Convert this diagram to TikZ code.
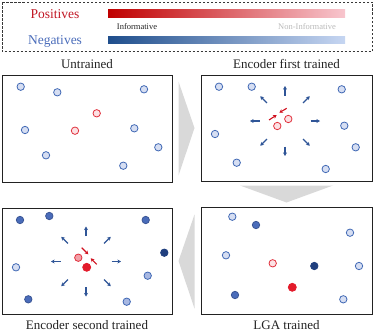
\documentclass[tikz,border=0pt]{standalone}
\usepackage{fontspec}
\setmainfont{Liberation Serif}
\usetikzlibrary{arrows.meta,positioning,calc}
\definecolor{cPos}{HTML}{C00000}
\definecolor{cPosL}{HTML}{F8C6CE}
\definecolor{cNeg}{HTML}{1F4E8C}
\definecolor{cNegL}{HTML}{C6D6F2}
\definecolor{cRing}{HTML}{4169B5}
\definecolor{cDotL}{HTML}{D6DEF2}
\definecolor{cDotM}{HTML}{4A6CBA}
\definecolor{cDotH}{HTML}{A8B8E2}
\definecolor{cDotD}{HTML}{203F7E}
\definecolor{cRed}{HTML}{E0303C}
\definecolor{cRedL}{HTML}{FCE1E4}
\definecolor{cRedM}{HTML}{F2A0A8}
\definecolor{cRedD}{HTML}{E31B2B}
\definecolor{cArrB}{HTML}{2F5597}
\definecolor{cArrR}{HTML}{D0101E}
\definecolor{cGrey}{HTML}{D9D9D9}
\definecolor{cInk}{HTML}{222222}
\tikzset{
  panel/.style={draw=cInk, line width=1pt, minimum width=170pt, minimum height=106pt, inner sep=0pt},
  ttl/.style={font=\fontsize{13}{15}\selectfont, inner sep=0pt, text=cInk},
  legt/.style={font=\fontsize{13.5}{15}\selectfont, inner sep=0pt},
  bar/.style={draw=none, minimum width=237pt, minimum height=7.5pt, inner sep=0pt},
  tick/.style={font=\fontsize{8.5}{10}\selectfont, inner sep=0pt},
  garrow/.style={fill=cGrey, draw=none},
}
\tikzset{
  dot/.style={circle, inner sep=0pt, minimum size=7.4pt, line width=0.8pt},
  negl/.style={dot, draw=cRing, fill=cDotL},
  negh/.style={dot, draw=cRing, fill=cDotH},
  negm/.style={dot, draw=cDotM!80!black, fill=cDotM},
  negd/.style={dot, draw=cDotD, fill=cDotD},
  posl/.style={dot, draw=cRed, fill=cRedL},
  posm/.style={dot, draw=cRed, fill=cRedM},
  posd/.style={dot, draw=cRedD, fill=cRedD, minimum size=8pt},
  vflow/.style={-{Stealth[length=3.6pt, width=4pt]}, line width=1.1pt, draw=cArrB},
  rflow/.style={-{Stealth[length=3.6pt, width=4pt]}, line width=1.1pt, draw=cArrR},
}
\begin{document}
\begin{tikzpicture}[x=1pt, y=-1pt]
\useasboundingbox (0,0) rectangle (374,332);
% legend
\draw[cInk!90, line width=0.9pt, dash pattern=on 2.5pt off 1.5pt] (2,2) rectangle (372,51.5);
\node[bar, left color=cPos, right color=cPosL, anchor=north west] (rbar) at (108,9.5) {};
\node[bar, left color=cNeg, right color=cNegL, anchor=north west] (bbar) at (108,36) {};
\node[legt, text=cRedD!85!black, anchor=base] (pos) at (55,18.5) {Positives};
\node[legt, text=cDotM, anchor=base] (neg) at (55,44.5) {Negatives};
\node[tick, text=cInk, anchor=base] (inf) at (137,29.5) {Informative};
\node[tick, text=gray!55, anchor=base] (ninf) at (307,29.5) {Non-Informative};
% panels
\node[panel, minimum height=107pt] (p1) at (87,128.5) {};
\node[panel, minimum width=171pt] (p2) at (286.5,128) {};
\node[panel] (p3) at (87,261) {};
\node[panel, minimum width=171pt, minimum height=107pt] (p4) at (286.5,260.5) {};
\node[ttl, above=5.5pt of p1] (t1) {Untrained};
\node[ttl, above=5.5pt of p2] (t2) {Encoder first trained};
\node[ttl, below=6pt of p3] (t3) {Encoder second trained};
\node[ttl, below=6pt of p4] (t4) {LGA trained};
% grey arrows
\fill[garrow] ($(p1.north east)+(6,7)$) -- ($(p2.west)+(-6,0)$) -- ($(p1.south east)+(6,-7)$) -- cycle;
\fill[garrow] ($(p2.south)+(-46.5,4)$) -- ($(p2.south)+(46.5,4)$) -- ($(p4.north)+(0,-4)$) -- cycle;
\fill[garrow] ($(p4.north west)+(-6,8)$) -- ($(p3.east)+(6,0)$) -- ($(p4.south west)+(-6,-6)$) -- cycle;
% untrained
\foreach \x/\y [count=\i] in {20.7/86.7, 57.3/92.3, 144/89.3, 25/130, 134.3/128.3, 158.3/147.3, 46/155.3, 123.3/165.7}
  \node[negl] (a\i) at (\x,\y) {};
\node[posl] (ap1) at (96.7,113.3) {};
\node[posl] (ap2) at (75,130.7) {};
% encoder first trained
\foreach \x/\y [count=\i] in {219/86.7, 251.7/86.7, 341.7/89.3, 215/134, 344.3/125.7, 355.7/147.3, 236.7/162.7, 325.7/169}
  \node[negl] (b\i) at (\x,\y) {};
\node[posl] (bp1) at (288.3,119) {};
\node[posl] (bp2) at (277.3,126) {};
\coordinate (c2) at (285,121);
\foreach \a in {0,45,...,315}
  \draw[vflow] ($(c2)+(\a:25.5)$) -- ($(c2)+(\a:35)$);
\coordinate (br1) at (269,120);
\coordinate (br2) at (286.7,108.3);
\draw[rflow] (br1) -- ($(br1)+(7.7,-5)$);
\draw[rflow] (br2) -- ($(br2)+(-7.4,4.4)$);
% encoder second trained
\node[negm] (c1) at (20,220) {};
\node[negm] (c2n) at (49.3,216) {};
\node[negm] (c3) at (145.7,220) {};
\node[negd] (c4) at (164.3,252.7) {};
\node[negl] (c5) at (16,267.3) {};
\node[negh] (c6) at (147.7,275.7) {};
\node[negm] (c7) at (28.3,299.3) {};
\node[negh] (c8) at (126.7,301.7) {};
\node[posm] (cp1) at (78.3,257.7) {};
\node[posd] (cp2) at (86.7,267.3) {};
\coordinate (c3c) at (86,261.5);
\foreach \a in {0,45,...,315}
  \draw[vflow] ($(c3c)+(\a:25.5)$) -- ($(c3c)+(\a:35)$);
\coordinate (cr1) at (81.7,247.7);
\coordinate (cr2) at (96.7,264.3);
\draw[rflow] (cr1) -- ($(cr1)+(6.6,6.6)$);
\draw[rflow] (cr2) -- ($(cr2)+(-6,-6)$);
% LGA trained
\foreach \x/\y [count=\i] in {232.3/216.7, 350/232.7, 226/255.3, 359/266, 343.3/299.3}
  \node[negl] (d\i) at (\x,\y) {};
\node[negm] (d6) at (256,225) {};
\node[negd] (d7) at (314.3,266) {};
\node[negm] (d8) at (235,295) {};
\node[posl] (dp1) at (272.7,263.3) {};
\node[posd] (dp2) at (292.3,287.3) {};
\end{tikzpicture}
\end{document}
